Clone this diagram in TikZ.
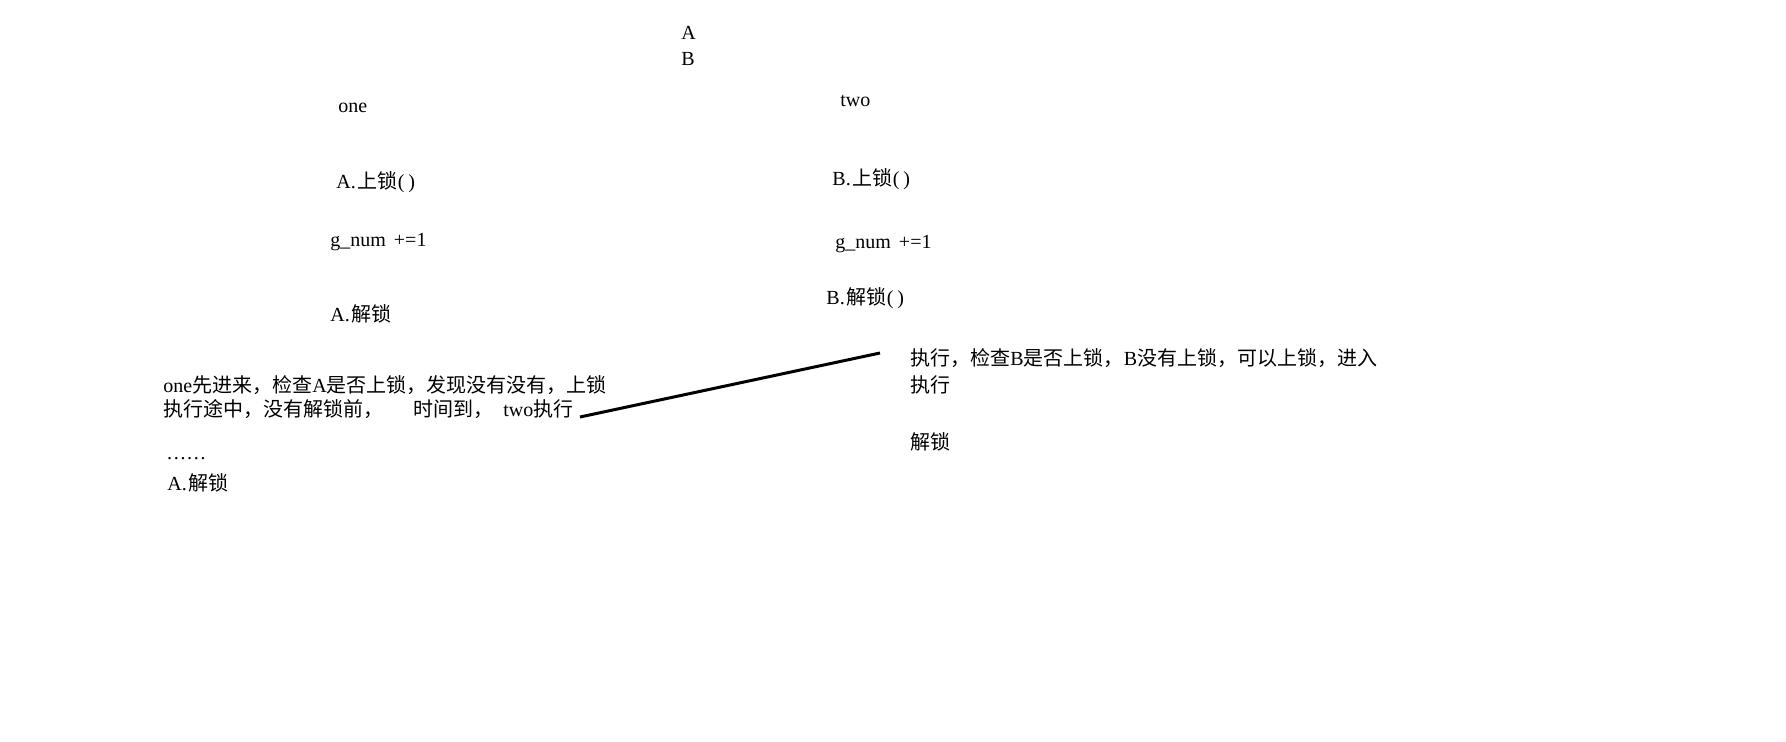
\documentclass[tikz,border=0pt]{standalone}
\usepackage{fontspec}
\setmainfont{Liberation Serif}
\newfontfamily\cjk{Noto Sans CJK SC}
\newcommand\parens{(\hspace{2pt})}
\begin{document}
\begin{tikzpicture}[x=0.5pt, y=-0.5pt,
  txt/.style={anchor=base west, inner sep=0pt, font=\fontsize{10}{12.5}\selectfont},
  para/.style={txt, align=left}]

\useasboundingbox (0,0) rectangle (1786,742); %% page size

%% lock names
\node[txt] (nameA) at (681,40) {A};
\node[txt] (nameB) at (681,66) {B};

%% thread one
\node[txt] (one) at (338,113) {one};
\node[txt] (lockA) at (336,189) {A.\hspace{1pt}{\cjk 上锁}\parens};
\node[txt] (addA) at (330,247) {g\_num\hspace{4pt}+=1};
\node[txt] (freeA) at (330,322) {A.\hspace{1pt}{\cjk 解锁}};

%% thread two
\node[txt] (two) at (840,107) {two};
\node[txt] (lockB) at (832,186) {B.\hspace{1pt}{\cjk 上锁}\parens};
\node[txt] (addB) at (835,249) {g\_num\hspace{4pt}+=1};
\node[txt] (freeB) at (826,305) {B.\hspace{1pt}{\cjk 解锁}\parens};

%% notes (base = last line)
\node[para] (noteA) at (163,417)
{one{\cjk 先进来，检查}A{\cjk 是否上锁，发现没有没有，上锁}\\
{\cjk 执行途中，没有解锁前，}\hspace{15pt}{\cjk 时间到，}\hspace{5pt}two{\cjk 执行}};
\node[txt] (dots) at (166,459) {……};
\node[txt] (freeA2) at (167,490) {A.\hspace{1pt}{\cjk 解锁}};

\node[para, font=\fontsize{10}{13.5}\selectfont] (noteB) at (910,393)
{{\cjk 执行，检查}B{\cjk 是否上锁，}B{\cjk 没有上锁，可以上锁，进入}\\
{\cjk 执行}};
\node[txt] (freeB2) at (910,450) {\cjk 解锁};

\coordinate (lnA) at (580,417);
\coordinate (lnB) at (880,353);
\draw[line width=1.5pt] (lnA) -- (lnB);

\end{tikzpicture}
\end{document}
